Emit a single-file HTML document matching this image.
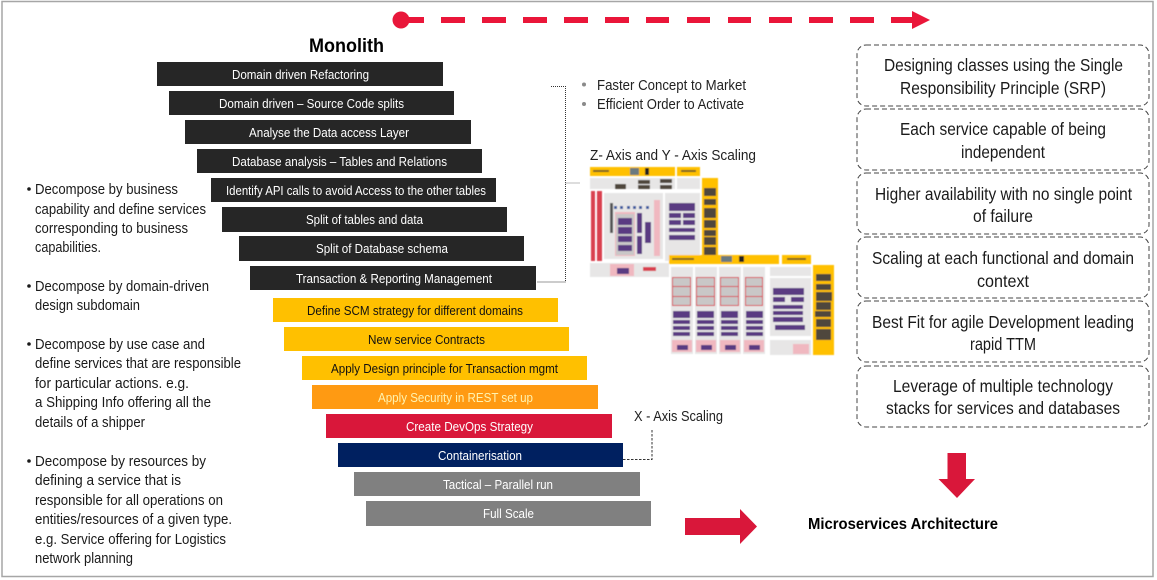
<!DOCTYPE html>
<html><head><meta charset="utf-8"><style>
html,body{margin:0;padding:0;background:#fff;width:1157px;height:580px;overflow:hidden}
svg{display:block}
text{font-family:"Liberation Sans",sans-serif;fill:#111}
.b text,text.b{font-size:13px}
.l{font-size:15px;fill:#1a1a1a}
.r{font-size:17.500px;fill:#1a1a1a}
.p{fill:#5a3a82}.g{fill:#e7e6e6}.y{fill:#ffc000}.d{fill:#4f463c}.k{fill:#d9414f}.q{fill:#f0b8c0}.s{fill:#c9c7c7}.t{fill:#7a6420}
</style></head><body>
<svg width="1157" height="580" viewBox="0 0 1157 580" xmlns="http://www.w3.org/2000/svg">
<defs><filter id="bl" x="-2%" y="-2%" width="104%" height="104%"><feGaussianBlur stdDeviation="0.450"/></filter></defs>
<rect x="2" y="1.500" width="1151" height="575" fill="#fff" stroke="#a6a6a6" stroke-width="1.500"/>

<!-- top arrow -->
<circle cx="401" cy="20" r="8.500" fill="#e8173a"/>
<g fill="#ea1639">
<rect x="401" y="17" width="23" height="6"/>
<rect x="441" y="17" width="24" height="6"/><rect x="482" y="17" width="24" height="6"/><rect x="523" y="17" width="24" height="6"/><rect x="564" y="17" width="24" height="6"/><rect x="605" y="17" width="24" height="6"/><rect x="646" y="17" width="23" height="6"/><rect x="687" y="17" width="23" height="6"/><rect x="728" y="17" width="23" height="6"/><rect x="769" y="17" width="23" height="6"/><rect x="809" y="17" width="24" height="6"/><rect x="850" y="17" width="24" height="6"/><rect x="891" y="17" width="24" height="6"/>
<polygon points="912,11 930,20 912,29"/>
</g>

<text x="309" y="52" font-size="19" font-weight="700" textLength="75" lengthAdjust="spacingAndGlyphs" style="fill:#000">Monolith</text>

<!-- bars -->
<g>
<rect x="157" y="62" width="286" height="24" fill="#262626"/>
<rect x="169" y="91" width="285" height="24" fill="#262626"/>
<rect x="185" y="120" width="286" height="24" fill="#262626"/>
<rect x="197" y="149" width="285" height="24" fill="#262626"/>
<rect x="211" y="178" width="285" height="24" fill="#262626"/>
<rect x="222" y="207" width="285" height="25" fill="#262626"/>
<rect x="239" y="236" width="285" height="25" fill="#262626"/>
<rect x="250" y="266" width="286" height="24" fill="#262626"/>
<rect x="273" y="298" width="285" height="24" fill="#ffc000"/>
<rect x="284" y="327" width="285" height="24" fill="#ffc000"/>
<rect x="302" y="356" width="285" height="24" fill="#ffc000"/>
<rect x="312" y="385" width="286" height="24" fill="#ff9a12"/>
<rect x="326" y="414" width="286" height="24" fill="#d9173a"/>
<rect x="338" y="443" width="285" height="24" fill="#002060"/>
<rect x="354" y="472" width="286" height="24" fill="#808080"/>
<rect x="366" y="501" width="285" height="25" fill="#808080"/>
</g>
<g class="b">
<text style="fill:#fff" x="232" y="79" textLength="137" lengthAdjust="spacingAndGlyphs">Domain driven Refactoring</text>
<text style="fill:#fff" x="219" y="108" textLength="185" lengthAdjust="spacingAndGlyphs">Domain driven – Source Code splits</text>
<text style="fill:#fff" x="249" y="137" textLength="160" lengthAdjust="spacingAndGlyphs">Analyse the Data access Layer</text>
<text style="fill:#fff" x="232" y="166" textLength="215" lengthAdjust="spacingAndGlyphs">Database analysis – Tables and Relations</text>
<text style="fill:#fff" x="226" y="195" textLength="260" lengthAdjust="spacingAndGlyphs">Identify API calls to avoid Access to the other tables</text>
<text style="fill:#fff" x="306" y="224" textLength="117" lengthAdjust="spacingAndGlyphs">Split of tables and data</text>
<text style="fill:#fff" x="316" y="253" textLength="132" lengthAdjust="spacingAndGlyphs">Split of Database schema</text>
<text style="fill:#fff" x="296" y="283" textLength="196" lengthAdjust="spacingAndGlyphs">Transaction &amp; Reporting Management</text>
<text style="fill:#111" x="307" y="315" textLength="216" lengthAdjust="spacingAndGlyphs">Define SCM strategy for different domains</text>
<text style="fill:#111" x="368" y="344" textLength="117" lengthAdjust="spacingAndGlyphs">New service Contracts</text>
<text style="fill:#111" x="331" y="373" textLength="227" lengthAdjust="spacingAndGlyphs">Apply Design principle for Transaction mgmt</text>
<text style="fill:#fff3b0" x="378" y="402" textLength="155" lengthAdjust="spacingAndGlyphs">Apply Security in REST set up</text>
<text style="fill:#fff" x="406" y="431" textLength="127" lengthAdjust="spacingAndGlyphs">Create DevOps Strategy</text>
<text style="fill:#fff" x="438" y="460" textLength="84" lengthAdjust="spacingAndGlyphs">Containerisation</text>
<text style="fill:#fff" x="443" y="489" textLength="110" lengthAdjust="spacingAndGlyphs">Tactical – Parallel run</text>
<text style="fill:#fff" x="483" y="518" textLength="51" lengthAdjust="spacingAndGlyphs">Full Scale</text>
</g>

<!-- left list -->
<g fill="#1a1a1a">
<circle cx="29" cy="189" r="1.800"/><circle cx="29" cy="286" r="1.800"/><circle cx="29" cy="344" r="1.800"/><circle cx="29" cy="461" r="1.800"/>
</g>
<g>
<text class="l" x="35" y="194" textLength="143" lengthAdjust="spacingAndGlyphs">Decompose by business</text>
<text class="l" x="35" y="214" textLength="171" lengthAdjust="spacingAndGlyphs">capability and define services</text>
<text class="l" x="35" y="233" textLength="153" lengthAdjust="spacingAndGlyphs">corresponding to business</text>
<text class="l" x="35" y="252" textLength="66" lengthAdjust="spacingAndGlyphs">capabilities.</text>
<text class="l" x="35" y="291" textLength="174" lengthAdjust="spacingAndGlyphs">Decompose by domain-driven</text>
<text class="l" x="35" y="310" textLength="105" lengthAdjust="spacingAndGlyphs">design subdomain</text>
<text class="l" x="35" y="349" textLength="170" lengthAdjust="spacingAndGlyphs">Decompose by use case and</text>
<text class="l" x="35" y="368" textLength="206" lengthAdjust="spacingAndGlyphs">define services that are responsible</text>
<text class="l" x="35" y="388" textLength="154" lengthAdjust="spacingAndGlyphs">for particular actions. e.g.</text>
<text class="l" x="35" y="407" textLength="176" lengthAdjust="spacingAndGlyphs">a Shipping Info offering all the</text>
<text class="l" x="35" y="427" textLength="110" lengthAdjust="spacingAndGlyphs">details of a shipper</text>
<text class="l" x="35" y="466" textLength="171" lengthAdjust="spacingAndGlyphs">Decompose by  resources by</text>
<text class="l" x="35" y="485" textLength="146" lengthAdjust="spacingAndGlyphs">defining a service that is</text>
<text class="l" x="35" y="505" textLength="188" lengthAdjust="spacingAndGlyphs">responsible for all operations on</text>
<text class="l" x="35" y="524" textLength="197" lengthAdjust="spacingAndGlyphs">entities/resources of a given type.</text>
<text class="l" x="35" y="544" textLength="191" lengthAdjust="spacingAndGlyphs">e.g. Service offering for Logistics</text>
<text class="l" x="35" y="563" textLength="98" lengthAdjust="spacingAndGlyphs">network planning</text>
</g>

<!-- bracket -->
<path d="M551 86.500H565.500V282H537" fill="none" stroke="#333" stroke-width="1" stroke-dasharray="1 1"/>
<path d="M565.500 183H580" fill="none" stroke="#777" stroke-width="1" stroke-dasharray="1 1"/>
<circle cx="584" cy="84.500" r="2" fill="#8a8a8a"/><circle cx="584" cy="104" r="2" fill="#8a8a8a"/>
<text x="597" y="90" font-size="15" textLength="149" lengthAdjust="spacingAndGlyphs" style="fill:#222">Faster Concept to Market</text>
<text x="597" y="109" font-size="15" textLength="147" lengthAdjust="spacingAndGlyphs" style="fill:#222">Efficient Order to Activate</text>
<text x="590" y="160" font-size="15" textLength="166" lengthAdjust="spacingAndGlyphs" style="fill:#222">Z- Axis and Y  -  Axis Scaling</text>

<!-- mini diagrams -->
<g filter="url(#bl)">
<g>
<rect class="y" x="590" y="167" width="85" height="9"/><rect class="y" x="677" y="167" width="23" height="9"/>
<rect class="t" x="593" y="170" width="16" height="2"/><rect class="t" x="681" y="170" width="15" height="2"/>
<rect x="630" y="168" width="9" height="7" fill="#6b7a80"/><rect x="645" y="168" width="4" height="7" fill="#222"/>
<rect class="g" x="590" y="178" width="85" height="11"/><rect class="g" x="677" y="178" width="23" height="11"/>
<rect class="d" x="615" y="184" width="11" height="5"/><rect class="d" x="638" y="180" width="12" height="4"/><rect class="d" x="638" y="185" width="12" height="4"/><rect class="d" x="660" y="179" width="12" height="4"/><rect class="d" x="660" y="185" width="12" height="4"/>
<rect class="y" x="702" y="178" width="16" height="78"/>
<rect class="d" x="704" y="188" width="12" height="8"/><rect class="d" x="704" y="199" width="12" height="6"/><rect class="d" x="704" y="208" width="12" height="10"/><rect class="d" x="704" y="220" width="12" height="8"/><rect class="d" x="704" y="230" width="12" height="6"/><rect class="d" x="704" y="237" width="12" height="8"/><rect class="d" x="704" y="247" width="12" height="8"/>
<rect class="k" x="591" y="191" width="4" height="70"/><rect class="k" x="597" y="191" width="5" height="70"/>
<rect class="g" x="604" y="193" width="59" height="66"/><rect class="g" x="665" y="193" width="35" height="68"/>
<rect x="610" y="203" width="3" height="30" fill="#555"/>
<g fill="#3a5aa0"><rect x="614" y="206" width="3" height="3"/><rect x="620" y="206" width="3" height="3"/><rect x="627" y="206" width="3" height="3"/><rect x="633" y="206" width="3" height="3"/><rect x="639" y="206" width="3" height="3"/><rect x="646" y="206" width="3" height="3"/></g>
<rect class="q" x="615" y="212" width="20" height="44"/><rect class="s" x="616" y="214" width="18" height="41"/>
<rect class="p" x="618" y="218" width="14" height="7"/><rect class="p" x="618" y="227" width="14" height="7"/><rect class="p" x="618" y="236" width="14" height="6"/><rect class="p" x="618" y="245" width="14" height="6"/>
<rect class="p" x="637" y="213" width="5" height="20"/><rect class="p" x="637" y="236" width="5" height="18"/><rect class="p" x="645" y="222" width="6" height="21"/>
<rect class="q" x="654" y="200" width="6" height="56"/>
<rect class="p" x="669" y="203" width="26" height="8"/><rect class="p" x="669" y="213" width="12" height="5"/><rect class="p" x="683" y="213" width="12" height="5"/><rect class="p" x="669" y="220" width="12" height="5"/><rect class="p" x="683" y="220" width="12" height="5"/><rect class="p" x="669" y="228" width="26" height="4"/><rect class="p" x="669" y="235" width="26" height="5"/>
<rect class="g" x="590" y="263" width="79" height="14"/>
<rect class="q" x="610" y="264" width="24" height="12"/><rect class="p" x="617" y="268" width="12" height="6"/><rect x="643" y="267" width="13" height="4" fill="#d9414f"/>
</g>
<g>
<rect class="y" x="669" y="255" width="110" height="9"/><rect class="y" x="782" y="255" width="29" height="9"/>
<rect class="t" x="672" y="258" width="22" height="2"/><rect class="t" x="787" y="258" width="19" height="2"/>
<rect x="721" y="256" width="11" height="6" fill="#6b7a80"/><rect x="739" y="256" width="5" height="6" fill="#222"/>
<rect class="g" x="671" y="267" width="22" height="87"/><rect class="g" x="695" y="267" width="22" height="87"/><rect class="g" x="719" y="267" width="22" height="87"/><rect class="g" x="743" y="267" width="22" height="87"/>
<g><rect class="k" x="672" y="277" width="19" height="29"/><rect class="k" x="696" y="277" width="19" height="29"/><rect class="k" x="720" y="277" width="19" height="29"/><rect class="k" x="745" y="277" width="18" height="29"/>
<rect class="s" x="673" y="278" width="17" height="8"/><rect class="s" x="673" y="287" width="17" height="9"/><rect class="s" x="673" y="297" width="17" height="8"/>
<rect class="s" x="697" y="278" width="17" height="8"/><rect class="s" x="697" y="287" width="17" height="9"/><rect class="s" x="697" y="297" width="17" height="8"/>
<rect class="s" x="721" y="278" width="17" height="8"/><rect class="s" x="721" y="287" width="17" height="9"/><rect class="s" x="721" y="297" width="17" height="8"/>
<rect class="s" x="746" y="278" width="16" height="8"/><rect class="s" x="746" y="287" width="16" height="9"/><rect class="s" x="746" y="297" width="16" height="8"/></g>
<g class="p"><rect x="673" y="311" width="17" height="7"/><rect x="673" y="320" width="17" height="4"/><rect x="673" y="326" width="17" height="4"/><rect x="673" y="332" width="17" height="4"/>
<rect x="697" y="311" width="17" height="7"/><rect x="697" y="320" width="17" height="4"/><rect x="697" y="326" width="17" height="4"/><rect x="697" y="332" width="17" height="4"/>
<rect x="721" y="311" width="17" height="7"/><rect x="721" y="320" width="17" height="4"/><rect x="721" y="326" width="17" height="4"/><rect x="721" y="332" width="17" height="4"/>
<rect x="746" y="311" width="17" height="7"/><rect x="746" y="320" width="17" height="4"/><rect x="746" y="326" width="17" height="4"/><rect x="746" y="332" width="17" height="4"/></g>
<g class="q"><rect x="672" y="340" width="20" height="12"/><rect x="696" y="340" width="20" height="12"/><rect x="720" y="340" width="20" height="12"/><rect x="744" y="340" width="20" height="12"/></g>
<g class="p"><rect x="677" y="345" width="11" height="5"/><rect x="701" y="345" width="11" height="5"/><rect x="725" y="345" width="11" height="5"/><rect x="749" y="345" width="11" height="5"/></g>
<rect class="g" x="770" y="267" width="41" height="9"/><rect class="g" x="770" y="278" width="41" height="58"/><rect class="g" x="770" y="340" width="41" height="15"/>
<rect class="p" x="773" y="288" width="31" height="7"/><rect class="p" x="773" y="297" width="12" height="5"/><rect class="p" x="791" y="297" width="13" height="5"/><rect class="p" x="773" y="305" width="30" height="4"/><rect class="p" x="773" y="311" width="30" height="4"/><rect class="p" x="773" y="317" width="30" height="5"/><rect class="p" x="775" y="325" width="30" height="5"/>
<rect class="q" x="793" y="344" width="16" height="10"/>
<rect class="y" x="813" y="265" width="21" height="90"/>
<rect class="d" x="816" y="274" width="15" height="7"/><rect class="d" x="816" y="284" width="15" height="6"/><rect class="d" x="816" y="292" width="16" height="9"/><rect class="d" x="816" y="302" width="15" height="8"/><rect class="d" x="815" y="311" width="16" height="6"/><rect class="d" x="816" y="319" width="15" height="8"/><rect class="d" x="816" y="329" width="15" height="11"/>
</g>
</g>

<!-- x axis -->
<text x="634" y="421" font-size="15" textLength="89" lengthAdjust="spacingAndGlyphs" style="fill:#222">X - Axis Scaling</text>
<path d="M623 459.500H652V430" fill="none" stroke="#333" stroke-width="1" stroke-dasharray="2.500 1.500"/>

<!-- right boxes -->
<g fill="none" stroke="#444" stroke-width="1" stroke-dasharray="5 3">
<rect x="857" y="45" width="292" height="61" rx="9"/>
<rect x="857" y="109" width="292" height="61" rx="9"/>
<rect x="857" y="173" width="292" height="61" rx="9"/>
<rect x="857" y="237" width="292" height="61" rx="9"/>
<rect x="857" y="301" width="292" height="61" rx="9"/>
<rect x="857" y="366" width="292" height="61" rx="9"/>
</g>
<g>
<text class="r" x="884" y="71" textLength="239" lengthAdjust="spacingAndGlyphs">Designing classes using the Single</text>
<text class="r" x="900" y="94" textLength="206" lengthAdjust="spacingAndGlyphs">Responsibility  Principle (SRP)</text>
<text class="r" x="900" y="135" textLength="206" lengthAdjust="spacingAndGlyphs">Each service capable of being</text>
<text class="r" x="961" y="158" textLength="84" lengthAdjust="spacingAndGlyphs">independent</text>
<text class="r" x="875" y="200" textLength="257" lengthAdjust="spacingAndGlyphs">Higher availability  with no single point</text>
<text class="r" x="973" y="222" textLength="60" lengthAdjust="spacingAndGlyphs">of failure</text>
<text class="r" x="872" y="264" textLength="262" lengthAdjust="spacingAndGlyphs">Scaling at each functional and domain</text>
<text class="r" x="977" y="287" textLength="52" lengthAdjust="spacingAndGlyphs">context</text>
<text class="r" x="872" y="328" textLength="262" lengthAdjust="spacingAndGlyphs">Best Fit for agile Development  leading</text>
<text class="r" x="970" y="350" textLength="66" lengthAdjust="spacingAndGlyphs">rapid TTM</text>
<text class="r" x="893" y="392" textLength="220" lengthAdjust="spacingAndGlyphs">Leverage of multiple technology</text>
<text class="r" x="886" y="414" textLength="234" lengthAdjust="spacingAndGlyphs">stacks for services and databases</text>
</g>

<!-- arrows -->
<polygon points="947.500,453 966,453 966,479 975,479 957,498 938.500,479 947.500,479" fill="#d9173a"/>
<polygon points="685,518 740,518 740,509 757,526.500 740,544 740,535 685,535" fill="#d9173a"/>
<text x="808" y="529" font-size="16" font-weight="700" textLength="190" lengthAdjust="spacingAndGlyphs" style="fill:#000">Microservices Architecture</text>
</svg>
</body></html>
